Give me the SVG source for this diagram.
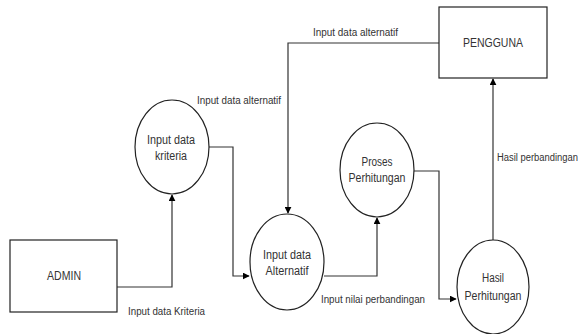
<svg xmlns="http://www.w3.org/2000/svg" width="584" height="334" viewBox="0 0 584 334">
<defs>
<style>
.n{fill:#fff;stroke:#222;stroke-width:1.2}
.t{font-family:"Liberation Sans",Arial,sans-serif;font-size:12px;fill:#333;text-anchor:middle;dominant-baseline:central}
.l{font-family:"Liberation Sans",Arial,sans-serif;font-size:11px;fill:#333;dominant-baseline:central}
.c{fill:none;stroke:#333;stroke-width:1.2}
</style>
<marker id="a" viewBox="0 0 10 10" refX="9" refY="5" markerWidth="7" markerHeight="7" orient="auto" markerUnits="userSpaceOnUse">
<path d="M0,0 L10,5 L0,10 z" fill="#000"/>
</marker>
</defs>
<rect width="584" height="334" fill="#fff"/>
<g id="connectors">
<path class="c" d="M117,287 H172 V195" marker-end="url(#a)"/>
<path class="c" d="M209,147 H233 V276 H249" marker-end="url(#a)"/>
<path class="c" d="M439,43 H288 V213" marker-end="url(#a)"/>
<path class="c" d="M324,276 H377 V218" marker-end="url(#a)"/>
<path class="c" d="M413,171 H439 V299 H456" marker-end="url(#a)"/>
<path class="c" d="M493,240 V79" marker-end="url(#a)"/>
<text class="l" x="313" y="32" textLength="85" lengthAdjust="spacingAndGlyphs">Input data alternatif</text>
<text class="l" x="197" y="100" textLength="84" lengthAdjust="spacingAndGlyphs">Input data alternatif</text>
<text class="l" x="497" y="157" font-size="10" style="font-size:10px" textLength="81" lengthAdjust="spacingAndGlyphs">Hasil perbandingan</text>
<text class="l" x="321" y="299" textLength="104" lengthAdjust="spacingAndGlyphs">Input nilai perbandingan</text>
<text class="l" x="128" y="311" textLength="77" lengthAdjust="spacingAndGlyphs">Input data Kriteria</text>
</g>
<g id="admin">
<rect class="n" x="10" y="240" width="107" height="72"/>
<text class="t" x="64" y="276" textLength="34" lengthAdjust="spacingAndGlyphs">ADMIN</text>
</g>
<g id="pengguna">
<rect class="n" x="439" y="7" width="108" height="71"/>
<text class="t" x="493" y="43" textLength="60" lengthAdjust="spacingAndGlyphs">PENGGUNA</text>
</g>
<g id="input-kriteria">
<ellipse class="n" cx="172" cy="147" rx="37" ry="47"/>
<text class="t" x="171" y="140" textLength="48" lengthAdjust="spacingAndGlyphs">Input data</text>
<text class="t" x="171" y="156" textLength="32" lengthAdjust="spacingAndGlyphs">kriteria</text>
</g>
<g id="input-alternatif">
<ellipse class="n" cx="287" cy="262" rx="37" ry="48"/>
<text class="t" x="287" y="255" textLength="48" lengthAdjust="spacingAndGlyphs">Input data</text>
<text class="t" x="287" y="271" textLength="43" lengthAdjust="spacingAndGlyphs">Alternatif</text>
</g>
<g id="proses">
<ellipse class="n" cx="377" cy="170" rx="37" ry="47"/>
<text class="t" x="377" y="162" textLength="31" lengthAdjust="spacingAndGlyphs">Proses</text>
<text class="t" x="377" y="178" textLength="57" lengthAdjust="spacingAndGlyphs">Perhitungan</text>
</g>
<g id="hasil">
<ellipse class="n" cx="493" cy="287" rx="36" ry="47"/>
<text class="t" x="493" y="278" textLength="22" lengthAdjust="spacingAndGlyphs">Hasil</text>
<text class="t" x="493" y="296" textLength="57" lengthAdjust="spacingAndGlyphs">Perhitungan</text>
</g>
</svg>
